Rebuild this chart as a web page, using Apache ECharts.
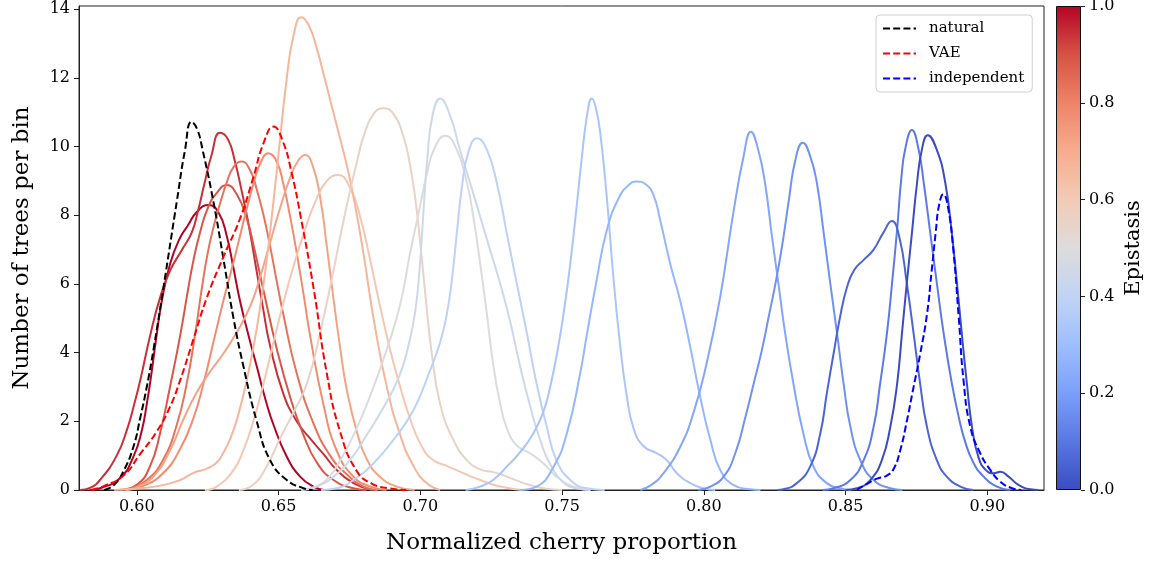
<!DOCTYPE html>
<html>
<head>
<meta charset="utf-8">
<script src="https://cdn.jsdelivr.net/npm/echarts@6/dist/echarts.min.js"></script>
<style>
  html, body { margin: 0; padding: 0; background: #fff; }
  #chart { width: 1153px; height: 561px; }
</style>
</head>
<body>
<div id="chart"></div>
<script>
// ---- tick labels ----
const X_TICKS = [0.60, 0.65, 0.70, 0.75, 0.80, 0.85, 0.90];
const Y_TICKS = [0, 2, 4, 6, 8, 10, 12, 14];
const CB_TICKS = [0.0, 0.2, 0.4, 0.6, 0.8, 1.0];

// ---- reference distributions (dashed) ----
const natural = [[0.5885,0],[0.5920,0.15],[0.5953,0.55],[0.5988,1.26],[0.6012,2.1],[0.6035,3.0],[0.6059,4.1],[0.6094,5.9],[0.6141,8.4],[0.6170,9.9],[0.6193,10.72],[0.6213,10.5],[0.6232,9.9],[0.627,8.4],[0.6306,6.7],[0.6341,5.0],[0.6376,3.6],[0.6423,2.0],[0.647,0.87],[0.6529,0.29],[0.6588,0.05],[0.662,0]];
const vae = [[0.584,0],[0.5885,0.12],[0.5953,0.42],[0.6012,1.05],[0.607,1.7],[0.6117,2.42],[0.6153,3.2],[0.620,4.4],[0.6247,5.6],[0.6306,6.8],[0.6364,7.9],[0.6411,9.1],[0.6447,10.1],[0.6482,10.58],[0.6515,10.15],[0.6547,9.2],[0.6577,8.0],[0.6623,5.9],[0.667,3.4],[0.6717,1.7],[0.6776,0.55],[0.683,0.18],[0.689,0.05],[0.695,0]];
const independent = [[0.854,0],[0.8576,0.18],[0.8611,0.33],[0.8646,0.42],[0.867,0.62],[0.8693,1.16],[0.8716,2.0],[0.874,3.0],[0.8763,3.95],[0.8787,5.1],[0.8804,6.4],[0.8818,7.5],[0.8830,8.3],[0.8845,8.61],[0.8862,8.2],[0.888,7.0],[0.8899,5.05],[0.8916,3.2],[0.894,1.84],[0.8975,1.07],[0.9011,0.58],[0.9046,0.24],[0.9087,0.05],[0.912,0]];

// ---- epistasis sweep (solid) ----
const EPISTASIS = [1.0, 0.944, 0.889, 0.833, 0.778, 0.722, 0.611, 0.667, 0.556, 0.5, 0.444, 0.389, 0.333, 0.278, 0.222, 0.167, 0.111, 0.056, 0.0];

const kde01 = [[0.5835,0],[0.587,0.05],[0.5941,0.35],[0.5988,0.97],[0.6018,1.75],[0.6035,2.5],[0.6050,3.3],[0.6068,4.4],[0.6088,5.5],[0.6118,6.6],[0.615,7.3],[0.618,7.7],[0.6212,8.1],[0.6253,8.3],[0.629,8.05],[0.6317,7.4],[0.634,6.5],[0.6364,5.5],[0.6394,4.5],[0.6423,3.6],[0.6455,2.6],[0.6482,1.9],[0.6529,0.97],[0.6576,0.39],[0.6623,0.1],[0.666,0]];
const kde02 = [[0.580,0],[0.5835,0.06],[0.5871,0.3],[0.5929,1.0],[0.5965,1.75],[0.5994,2.6],[0.6015,3.3],[0.6047,4.5],[0.6082,5.6],[0.6118,6.4],[0.6160,7.0],[0.6194,7.5],[0.6215,8.1],[0.6238,8.9],[0.6262,9.7],[0.6294,10.4],[0.6322,10.2],[0.6345,9.6],[0.6370,8.7],[0.6395,7.7],[0.6420,6.5],[0.6445,5.3],[0.647,4.2],[0.6517,2.8],[0.6564,2.0],[0.6611,1.5],[0.6658,1.05],[0.6705,0.58],[0.6764,0.2],[0.683,0]];
const kde03 = [[0.594,0],[0.600,0.15],[0.6047,0.7],[0.6082,1.65],[0.6117,3.0],[0.6153,4.5],[0.618,5.8],[0.620,6.7],[0.6223,7.5],[0.6250,8.2],[0.6282,8.65],[0.6317,8.88],[0.6353,8.6],[0.6388,7.9],[0.6415,7.0],[0.6447,5.8],[0.6494,4.1],[0.6541,2.7],[0.6588,1.6],[0.6635,0.8],[0.6694,0.29],[0.6764,0.05],[0.681,0]];
const kde04 = [[0.5965,0],[0.6035,0.29],[0.6094,0.9],[0.6141,1.9],[0.6176,3.1],[0.6205,4.5],[0.6228,5.8],[0.6250,6.9],[0.6272,7.7],[0.6294,8.35],[0.6317,8.95],[0.6341,9.4],[0.637,9.56],[0.640,9.3],[0.6423,8.75],[0.6447,8.0],[0.647,7.1],[0.6493,6.1],[0.6517,5.1],[0.6564,3.4],[0.6623,1.94],[0.6682,1.0],[0.6741,0.45],[0.680,0.1],[0.685,0]];
const kde05 = [[0.596,0],[0.6023,0.12],[0.6094,0.5],[0.6153,1.2],[0.620,2.1],[0.6235,3.1],[0.627,4.3],[0.6305,5.5],[0.634,6.6],[0.6364,7.4],[0.6388,8.2],[0.6411,8.9],[0.6435,9.5],[0.6464,9.8],[0.6494,9.55],[0.6517,8.9],[0.6541,7.95],[0.6564,6.9],[0.659,5.6],[0.6611,4.5],[0.6658,2.5],[0.6705,1.15],[0.6764,0.39],[0.6823,0.1],[0.688,0]];
const kde06 = [[0.596,0],[0.600,0.08],[0.6059,0.4],[0.6117,1.15],[0.6164,2.05],[0.6212,2.85],[0.6259,3.45],[0.6306,3.98],[0.6353,4.6],[0.640,5.35],[0.6435,6.2],[0.647,7.2],[0.6505,8.2],[0.6541,9.1],[0.6570,9.6],[0.6594,9.75],[0.6620,9.45],[0.6647,8.5],[0.667,7.1],[0.6694,5.55],[0.6717,4.15],[0.6741,2.9],[0.6776,1.7],[0.6811,0.9],[0.6858,0.38],[0.6917,0.1],[0.698,0]];
const kde07 = [[0.624,0],[0.6282,0.1],[0.6341,0.58],[0.6376,1.16],[0.6411,2.0],[0.6447,3.1],[0.6482,4.3],[0.6517,5.45],[0.6552,6.5],[0.6588,7.45],[0.6630,8.4],[0.667,9.0],[0.6711,9.17],[0.6752,8.8],[0.6788,7.95],[0.6823,6.7],[0.6858,5.35],[0.6893,4.1],[0.6929,3.0],[0.6965,2.05],[0.700,1.35],[0.7040,0.9],[0.7093,0.7],[0.7152,0.49],[0.7211,0.29],[0.7282,0.1],[0.736,0]];
const kde08 = [[0.592,0],[0.5976,0.03],[0.608,0.12],[0.6153,0.29],[0.620,0.5],[0.6247,0.62],[0.6282,0.8],[0.6306,1.1],[0.6330,1.5],[0.6353,2.05],[0.6388,3.2],[0.6423,4.7],[0.6455,6.5],[0.6482,8.4],[0.6505,10.2],[0.6529,12.0],[0.6552,13.2],[0.658,13.76],[0.6608,13.5],[0.6635,12.85],[0.6662,12.0],[0.6690,11.1],[0.6718,10.2],[0.6745,9.3],[0.6772,8.2],[0.6800,6.85],[0.6835,5.0],[0.6882,3.0],[0.6929,1.6],[0.6976,0.7],[0.702,0.22],[0.707,0]];
const kde09 = [[0.636,0],[0.641,0.15],[0.6459,0.7],[0.6505,1.5],[0.6552,2.25],[0.660,3.1],[0.6647,4.6],[0.6694,6.4],[0.6723,7.6],[0.6752,8.7],[0.6775,9.5],[0.680,10.3],[0.6835,10.95],[0.687,11.11],[0.6905,10.95],[0.694,10.3],[0.6964,9.45],[0.6985,8.3],[0.7002,7.0],[0.7020,5.5],[0.7040,4.0],[0.707,2.5],[0.7117,1.45],[0.7164,0.87],[0.7211,0.6],[0.7258,0.52],[0.7305,0.39],[0.7364,0.2],[0.7434,0.05],[0.750,0]];
const kde10 = [[0.658,0],[0.663,0.1],[0.667,0.3],[0.6717,0.85],[0.6776,1.8],[0.6835,3.0],[0.6882,4.1],[0.6929,5.4],[0.6964,6.9],[0.700,8.3],[0.7023,9.2],[0.7050,9.95],[0.7088,10.31],[0.7129,9.9],[0.7164,8.95],[0.7188,7.9],[0.7211,6.6],[0.7232,5.3],[0.7258,3.6],[0.7282,2.5],[0.7305,1.8],[0.7340,1.3],[0.7387,1.07],[0.7434,0.78],[0.748,0.39],[0.754,0.1],[0.760,0]];
const kde11 = [[0.658,0],[0.6635,0.1],[0.6694,0.39],[0.6752,0.87],[0.6811,1.6],[0.687,2.4],[0.6925,3.3],[0.6958,4.2],[0.6982,5.2],[0.6998,6.5],[0.7011,8.1],[0.7024,9.6],[0.7043,10.9],[0.707,11.4],[0.7105,10.9],[0.714,9.9],[0.7176,8.93],[0.7211,7.96],[0.7246,6.99],[0.7282,6.0],[0.7317,4.9],[0.7352,3.6],[0.7387,2.45],[0.7423,1.45],[0.7458,0.75],[0.7505,0.22],[0.755,0.05],[0.760,0]];
const kde12 = [[0.665,0],[0.6705,0.05],[0.6764,0.29],[0.6835,0.78],[0.6905,1.46],[0.6976,2.33],[0.7035,3.5],[0.707,4.3],[0.7093,5.1],[0.7111,6.1],[0.7129,7.5],[0.7148,8.9],[0.717,9.85],[0.720,10.24],[0.7235,9.9],[0.727,8.93],[0.7305,7.47],[0.734,6.02],[0.7376,4.56],[0.741,3.1],[0.7446,1.84],[0.748,0.87],[0.7529,0.29],[0.7587,0.05],[0.765,0]];
const kde13 = [[0.716,0],[0.7211,0.1],[0.7258,0.3],[0.7305,0.68],[0.7352,1.1],[0.7399,1.65],[0.7435,2.3],[0.7458,3.0],[0.7485,4.1],[0.7510,5.4],[0.7532,6.8],[0.7552,8.3],[0.7570,9.7],[0.7588,10.9],[0.7605,11.4],[0.7620,11.1],[0.7636,10.3],[0.7658,8.5],[0.7681,6.2],[0.7705,4.2],[0.7728,2.75],[0.7752,1.8],[0.7787,1.28],[0.7834,1.07],[0.7869,0.87],[0.7905,0.49],[0.7952,0.2],[0.800,0.05],[0.804,0]];
const kde14 = [[0.735,0],[0.741,0.1],[0.747,0.68],[0.7517,1.65],[0.7564,3.4],[0.7587,4.5],[0.7622,6.11],[0.7658,7.57],[0.7700,8.5],[0.7735,8.88],[0.7764,8.98],[0.7795,8.9],[0.7822,8.6],[0.7846,7.86],[0.7881,6.6],[0.7917,5.5],[0.7952,4.17],[0.7987,2.72],[0.8023,1.46],[0.8058,0.58],[0.8104,0.15],[0.8164,0.02],[0.820,0]];
const kde15 = [[0.7776,0],[0.7815,0.15],[0.7858,0.49],[0.7917,1.26],[0.7963,2.23],[0.801,3.69],[0.8058,5.63],[0.8104,8.06],[0.814,9.7],[0.8166,10.43],[0.8192,9.9],[0.8216,8.93],[0.8239,7.47],[0.8263,6.02],[0.8287,4.56],[0.8316,3.1],[0.8351,1.65],[0.8387,0.68],[0.8434,0.2],[0.848,0.05],[0.852,0]];
const kde16 = [[0.798,0],[0.8023,0.1],[0.807,0.39],[0.8111,1.07],[0.8147,2.13],[0.8176,3.1],[0.8205,4.08],[0.8229,5.05],[0.8253,6.02],[0.8276,7.1],[0.830,8.44],[0.8323,9.61],[0.8349,10.11],[0.8376,9.7],[0.8399,8.93],[0.8423,7.47],[0.8446,6.02],[0.847,4.56],[0.8493,3.1],[0.8517,1.84],[0.8552,0.87],[0.8599,0.29],[0.8658,0.05],[0.870,0]];
const kde17 = [[0.842,0],[0.8458,0.05],[0.8517,0.29],[0.8564,0.87],[0.8599,1.84],[0.8622,3.1],[0.8646,4.56],[0.8664,6.02],[0.8682,7.6],[0.8697,9.1],[0.8711,9.95],[0.8734,10.48],[0.8758,9.9],[0.8776,8.93],[0.8799,7.47],[0.8822,6.02],[0.8846,4.56],[0.8875,3.1],[0.8899,2.13],[0.8922,1.4],[0.8952,0.78],[0.8987,0.39],[0.9034,0.1],[0.908,0]];
const kde18 = [[0.826,0],[0.8281,0.02],[0.8328,0.2],[0.8375,0.68],[0.8411,1.65],[0.8434,2.82],[0.8458,3.98],[0.8481,5.05],[0.8505,5.9],[0.8530,6.4],[0.8564,6.7],[0.8599,7.0],[0.8634,7.5],[0.8663,7.83],[0.8690,7.35],[0.8716,6.02],[0.874,4.56],[0.8763,3.1],[0.8787,1.84],[0.8822,0.87],[0.8857,0.39],[0.8905,0.1],[0.895,0]];
const kde19 = [[0.850,0],[0.854,0.05],[0.8587,0.29],[0.8628,0.87],[0.8658,1.84],[0.8682,3.1],[0.8699,4.56],[0.8716,6.02],[0.8734,7.47],[0.8752,8.93],[0.8769,9.9],[0.879,10.33],[0.8822,9.9],[0.8852,8.93],[0.8875,7.47],[0.8893,6.02],[0.891,4.56],[0.8928,3.1],[0.8946,1.84],[0.8969,0.95],[0.8995,0.58],[0.9023,0.49],[0.9046,0.53],[0.9075,0.39],[0.911,0.15],[0.9152,0.02],[0.918,0]];

const KDES = [kde01, kde02, kde03, kde04, kde05, kde06, kde07, kde08, kde09, kde10,
              kde11, kde12, kde13, kde14, kde15, kde16, kde17, kde18, kde19];

// ---- coolwarm colour map ----
const COOLWARM = ['#3b4cc0','#5977e3','#7b9ff9','#9ebeff','#c0d4f5','#dddcdc',
                  '#f2cbb7','#f7ac8e','#ee8468','#d65244','#b40426'];

function hexToRgb(h) {
  return [parseInt(h.slice(1,3),16), parseInt(h.slice(3,5),16), parseInt(h.slice(5,7),16)];
}
function coolwarm(t) {
  const n = COOLWARM.length - 1;
  const p = Math.min(Math.max(t, 0), 1) * n;
  const i = Math.min(Math.floor(p), n - 1);
  const f = p - i;
  const a = hexToRgb(COOLWARM[i]), b = hexToRgb(COOLWARM[i + 1]);
  const c = a.map((v, k) => Math.round(v + (b[k] - v) * f));
  return 'rgb(' + c.join(',') + ')';
}

const FONT = "'DejaVu Serif', 'Liberation Serif', serif";
const chart = echarts.init(document.getElementById('chart'), null, { renderer: 'canvas' });

const curveSeries = KDES.map((d, i) => ({
  name: 'epistasis ' + EPISTASIS[i].toFixed(2),
  type: 'line',
  data: d,
  symbol: 'none',
  showSymbol: false,
  smooth: 0.5,
  silent: true,
  z: 2,
  lineStyle: { width: 2, color: coolwarm(EPISTASIS[i]) },
  itemStyle: { color: coolwarm(EPISTASIS[i]) }
}));

function dashed(name, data, color) {
  return {
    name: name,
    type: 'line',
    data: data,
    symbol: 'none',
    showSymbol: false,
    smooth: 0.5,
    silent: true,
    z: 3,
    lineStyle: { width: 2, color: color, type: [7, 3.2] },
    itemStyle: { color: color }
  };
}

const gradStops = COOLWARM.map((c, i) => ({ offset: i / (COOLWARM.length - 1), color: c }));

const option = {
  animation: false,
  backgroundColor: '#fff',
  textStyle: { fontFamily: FONT, color: '#000' },
  grid: [
    { left: 79, top: 6, width: 965, height: 484, show: true, borderColor: '#222', borderWidth: 1,
      backgroundColor: 'transparent', outerBoundsMode: 'none', containLabel: false },
    { left: 1056, top: 6, width: 25, height: 484, show: false, outerBoundsMode: 'none', containLabel: false }
  ],
  legend: {
    data: ['natural', 'VAE', 'independent'],
    orient: 'vertical',
    left: 876, top: 15,
    padding: [6, 8, 6, 6],
    itemWidth: 33, itemHeight: 14, itemGap: 10,
    backgroundColor: '#fff',
    borderColor: '#d0d0d0', borderWidth: 1, borderRadius: 4,
    selectedMode: false,
    itemStyle: { opacity: 0, color: 'rgba(0,0,0,0)', borderColor: 'rgba(0,0,0,0)', borderWidth: 0 },
    textStyle: { fontFamily: FONT, fontSize: 15, color: '#000', padding: [0, 0, 0, 8] }
  },
  xAxis: [
    {
      type: 'value', gridIndex: 0, min: 0.5796, max: 0.92,
      name: 'Normalized cherry proportion', nameLocation: 'middle', nameGap: 42,
      nameTextStyle: { fontFamily: FONT, fontSize: 23, color: '#000' },
      axisLine: { show: true, onZero: false, lineStyle: { color: '#222', width: 1 } },
      axisTick: { show: true, length: 5, customValues: X_TICKS, lineStyle: { color: '#222' } },
      axisLabel: { customValues: X_TICKS, formatter: v => v.toFixed(2), fontFamily: FONT, fontSize: 16, color: '#000', margin: 9 },
      splitLine: { show: false }
    },
    { type: 'category', gridIndex: 1, data: ['bar'], show: false }
  ],
  yAxis: [
    {
      type: 'value', gridIndex: 0, min: 0, max: 14.09,
      name: 'Number of trees per bin', nameLocation: 'middle', nameGap: 45,
      nameTextStyle: { fontFamily: FONT, fontSize: 23, color: '#000' },
      axisLine: { show: true, onZero: false, lineStyle: { color: '#222', width: 1 } },
      axisTick: { show: true, length: 5, customValues: Y_TICKS, lineStyle: { color: '#222' } },
      axisLabel: { customValues: Y_TICKS, fontFamily: FONT, fontSize: 16, color: '#000', margin: 9 },
      splitLine: { show: false }
    },
    {
      type: 'value', gridIndex: 1, min: 0, max: 1, position: 'right',
      name: 'Epistasis', nameLocation: 'middle', nameGap: 42, nameRotate: 90,
      nameTextStyle: { fontFamily: FONT, fontSize: 21, color: '#000' },
      axisLine: { show: false },
      axisTick: { show: true, length: 4, customValues: CB_TICKS, lineStyle: { color: '#222' } },
      axisLabel: { customValues: CB_TICKS, formatter: v => v.toFixed(1), fontFamily: FONT, fontSize: 16, color: '#000', margin: 8 },
      splitLine: { show: false }
    }
  ],
  series: [
    ...curveSeries,
    dashed('natural', natural, '#000000'),
    dashed('VAE', vae, '#ff0000'),
    dashed('independent', independent, '#0000ff'),
    {
      name: 'colorbar',
      type: 'bar',
      xAxisIndex: 1, yAxisIndex: 1,
      data: [1],
      barWidth: '100%',
      silent: true,
      itemStyle: {
        color: new echarts.graphic.LinearGradient(0, 1, 0, 0, gradStops),
        borderColor: '#111', borderWidth: 1
      }
    }
  ]
};

chart.setOption(option);
</script>
</body>
</html>
